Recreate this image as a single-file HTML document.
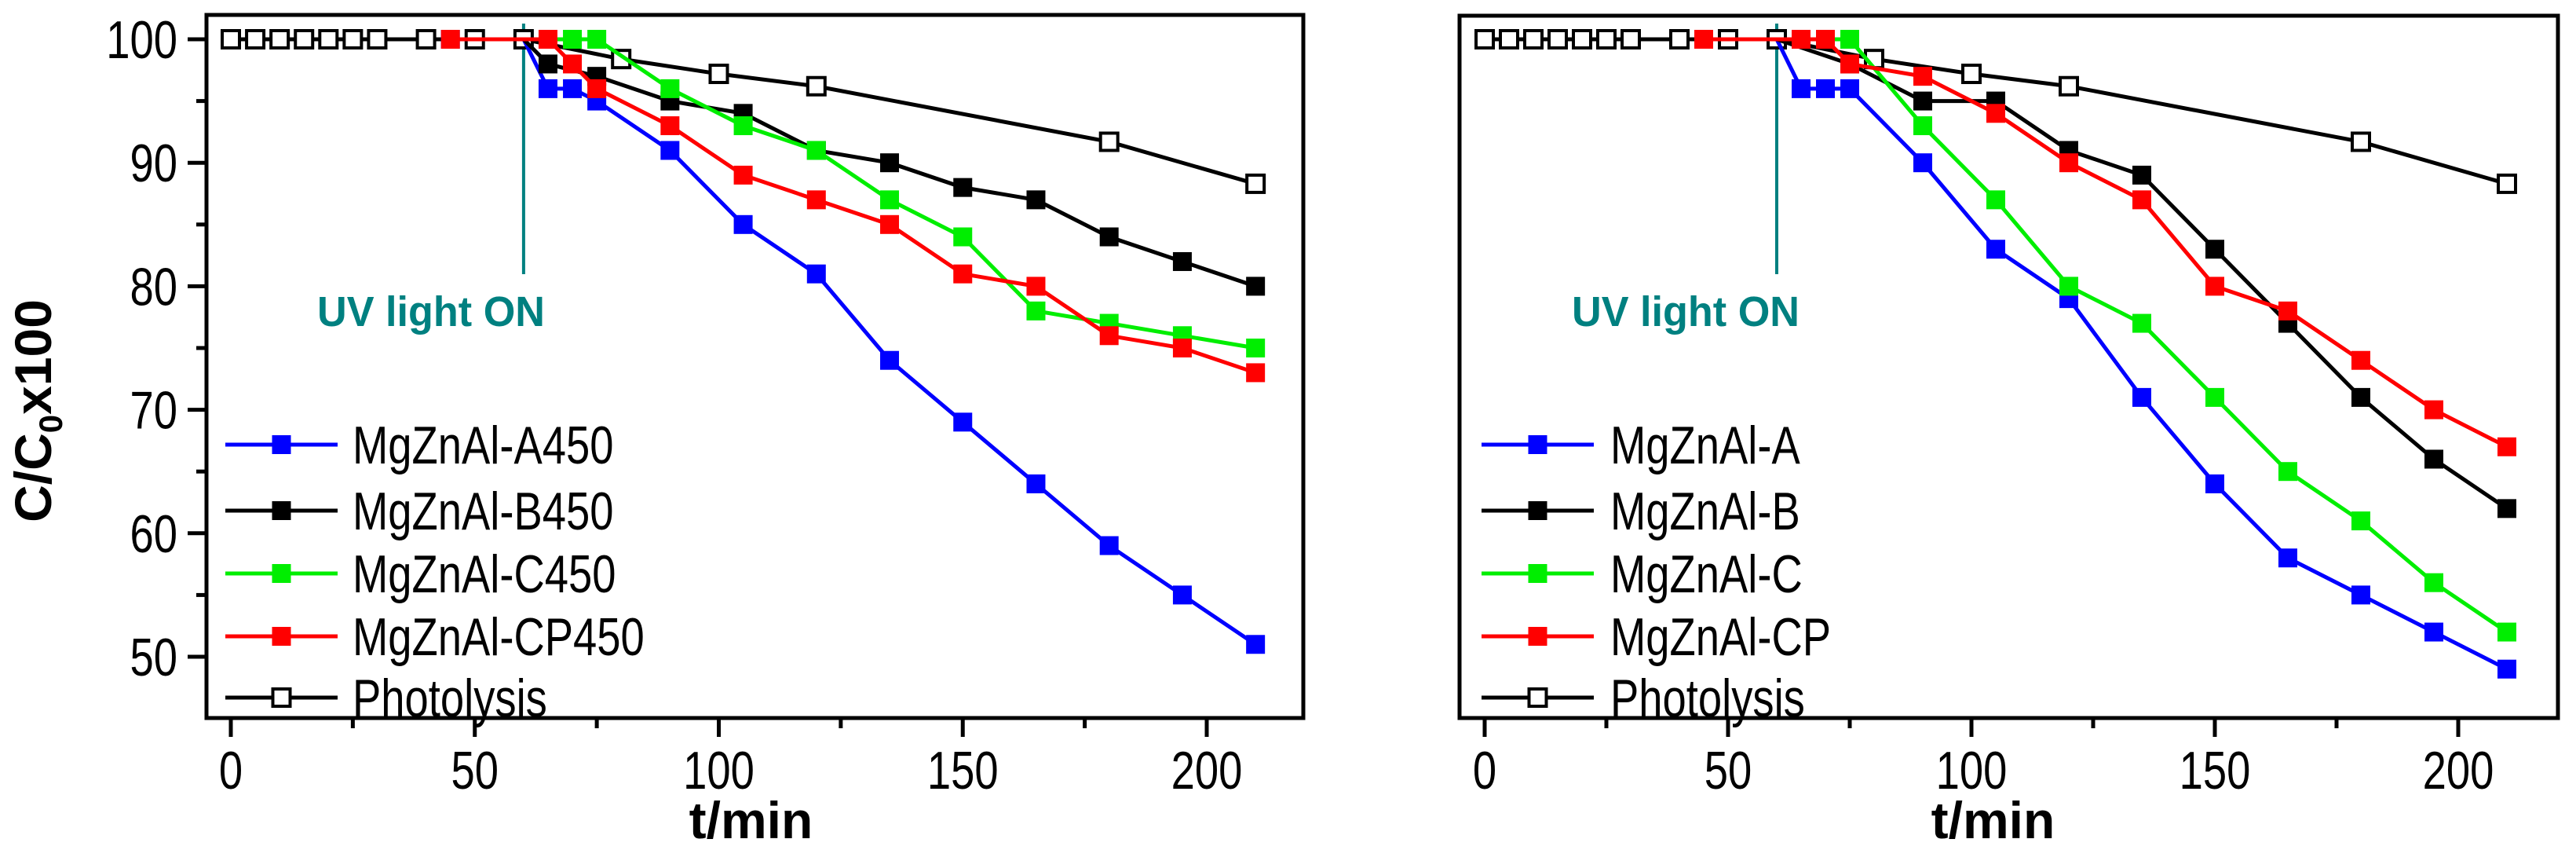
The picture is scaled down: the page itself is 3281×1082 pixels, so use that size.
<!DOCTYPE html>
<html><head><meta charset="utf-8"><style>
html,body{margin:0;padding:0;background:#fff;}
svg{display:block;}
text{font-family:"Liberation Sans",sans-serif;}
</style></head><body>
<svg id="chart" width="3281" height="1082" viewBox="0 0 3281 1082" xmlns="http://www.w3.org/2000/svg"></svg>
<script>
const xTicks=[0,50,100,150,200];
const xMinor=[25,75,125,175];
const yTicks=[50,60,70,80,90,100];
const yMinor=[55,65,75,85,95];
const photoX=[0,5,10,15,20,25,30,40,50,60,80,100,120,180,210];
const photoY=[100,100,100,100,100,100,100,100,100,100,98.4,97.2,96.2,91.7,88.3];
const leftNames=["MgZnAl-A450","MgZnAl-B450","MgZnAl-C450","MgZnAl-CP450"];
const rightNames=["MgZnAl-A","MgZnAl-B","MgZnAl-C","MgZnAl-CP"];
const colors=["#0000ff","#000000","#00ee00","#ff0000"];
const lAX=[45,60,65,70,75,90,105,120,135,150,165,180,195,210];
const lAY=[100,100,96,96,95,91,85,81,74,69,64,59,55,51];
const lBX=[60,65,75,90,105,120,135,150,165,180,195,210];
const lBY=[100,98,97,95,94,91,90,88,87,84,82,80];
const lCX=[60,70,75,90,105,120,135,150,165,180,195,210];
const lCY=[100,100,100,96,93,91,87,84,78,77,76,75];
const lDX=[45,60,65,70,75,90,105,120,135,150,165,180,195,210];
const lDY=[100,100,100,98,96,93,89,87,85,81,80,76,75,73];
const rAX=[45,60,65,70,75,90,105,120,135,150,165,180,195,210];
const rAY=[100,100,96,96,96,90,83,79,71,64,58,55,52,49];
const rBX=[60,75,90,105,120,135,150,165,180,195,210];
const rBY=[100,98,95,95,91,89,83,77,71,66,62];
const rCX=[60,75,90,105,120,135,150,165,180,195,210];
const rCY=[100,100,93,87,80,77,71,65,61,56,52];
const rDX=[45,60,65,70,75,90,105,120,135,150,165,180,195,210];
const rDY=[100,100,100,100,98,97,94,90,87,80,78,74,70,67];

const NS="http://www.w3.org/2000/svg";
const svg=document.getElementById('chart');
function mk(tag,attrs,parent){const e=document.createElementNS(NS,tag);for(const k in attrs)e.setAttribute(k,attrs[k]);(parent||svg).appendChild(e);return e;}

function panel(id,box,x0,pxMin,names,series,showY,uvTextX){
  const g=mk('g',{});
  
  
  const yv=v=>50-(v-100)*15.72;
  const xv=v=>x0+v*pxMin;
  const fr=mk('rect',{x:box.l,y:box.t,width:box.r-box.l,height:box.b-box.t,fill:'none',stroke:'#000','stroke-width':5},g);
  
  
  xTicks.forEach(t=>{
    const l=mk('line',{x1:xv(t),x2:xv(t),y1:box.b,y2:box.b+24,stroke:'#000','stroke-width':5},g);
    
    
    const tx=mk('text',{x:xv(t),y:1004,'font-size':68,'text-anchor':'middle',fill:'#000',transform:`translate(${xv(t)},0) scale(0.8,1) translate(${-xv(t)},0)`},g);
    tx.textContent=t;
    
    
  });
  xMinor.forEach(t=>{
    const l=mk('line',{x1:xv(t),x2:xv(t),y1:box.b,y2:box.b+13,stroke:'#000','stroke-width':5},g);
    
    
  });
  if(showY){
    yTicks.forEach(t=>{
      const l=mk('line',{x1:box.l-24,x2:box.l,y1:yv(t),y2:yv(t),stroke:'#000','stroke-width':5},g);
      
      
      const tx=mk('text',{x:226,y:yv(t)+24,'font-size':68,'text-anchor':'end',fill:'#000',transform:`translate(226,0) scale(0.8,1) translate(-226,0)`},g);
      tx.textContent=t;
      
      
    });
    yMinor.forEach(t=>{
      const l=mk('line',{x1:box.l-13,x2:box.l,y1:yv(t),y2:yv(t),stroke:'#000','stroke-width':5},g);
      
      
    });
  }
  const xt=mk('text',{x:(box.l+box.r)/2+(showY?-5:-20),y:1067,'font-size':66,'font-weight':'bold','text-anchor':'middle',fill:'#000'},g);
  xt.textContent='t/min';
  
  
  const uv=mk('line',{x1:xv(60),x2:xv(60),y1:30,y2:349,stroke:'#008080','stroke-width':4},g);
  
  
  const uvt=mk('text',{x:uvTextX,y:415,'font-size':54,'font-weight':'bold',fill:'#008080',textLength:290,lengthAdjust:'spacingAndGlyphs'},g);
  uvt.textContent='UV light ON';
  
  
  const pts=photoX.map((x,i)=>xv(x)+','+yv(photoY[i])).join(' ');
  const pl=mk('polyline',{points:pts,fill:'none',stroke:'#000','stroke-width':5},g);
  
  
  photoX.forEach((x,i)=>{
    const m=mk('rect',{x:xv(x)-11,y:yv(photoY[i])-11,width:22,height:22,fill:'#fff',stroke:'#000','stroke-width':4},g);
    
    
  });
  series.forEach((s,k)=>{
    const p=s[0].map((x,i)=>xv(x)+','+yv(s[1][i])).join(' ');
    const ln=mk('polyline',{points:p,fill:'none',stroke:colors[k],'stroke-width':5},g);
    
    
    s[0].forEach((x,i)=>{
      if(x===60&&s[1][i]===100)return;
      const m=mk('rect',{x:xv(x)-12,y:yv(s[1][i])-12,width:24,height:24,fill:colors[k]},g);
      
      
    });
  });
  const lg=mk('g',{},g);
  
  
  const rows=[566,650,730,810,888];
  const lx1=showY?287:1887, lx2=showY?430:2030, tx=showY?449:2051;
  names.concat(['Photolysis']).forEach((n,k)=>{
    const y=rows[k];
    const e=mk('g',{},lg);
    
    
    const c=k<4?colors[k]:'#000';
    mk('line',{x1:lx1,x2:lx2,y1:y,y2:y,stroke:c,'stroke-width':5},e);
    const mx=(lx1+lx2)/2;
    if(k<4) mk('rect',{x:mx-12,y:y-12,width:24,height:24,fill:c},e);
    else mk('rect',{x:mx-11,y:y-11,width:22,height:22,fill:'#fff',stroke:'#000','stroke-width':4},e);
    const t=mk('text',{x:tx,y:y+24,'font-size':68,fill:'#000',transform:`translate(${tx},0) scale(0.8,1) translate(${-tx},0)`},e);
    t.textContent=n;
  });
}
panel('left-panel',{l:263,r:1660,t:19,b:914},294,6.215,leftNames,[[lAX,lAY],[lBX,lBY],[lCX,lCY],[lDX,lDY]],true,404);
panel('right-panel',{l:1859,r:3258,t:20,b:914},1891,6.2,rightNames,[[rAX,rAY],[rBX,rBY],[rCX,rCY],[rDX,rDY]],false,2002);
const yt=mk('text',{x:0,y:0,'font-size':66,'font-weight':'bold','text-anchor':'middle',fill:'#000',transform:'translate(65,523) rotate(-90)'});
yt.innerHTML='C/C<tspan font-size="42" dy="14">0</tspan><tspan dy="-14">x100</tspan>';


</script>
</body></html>
